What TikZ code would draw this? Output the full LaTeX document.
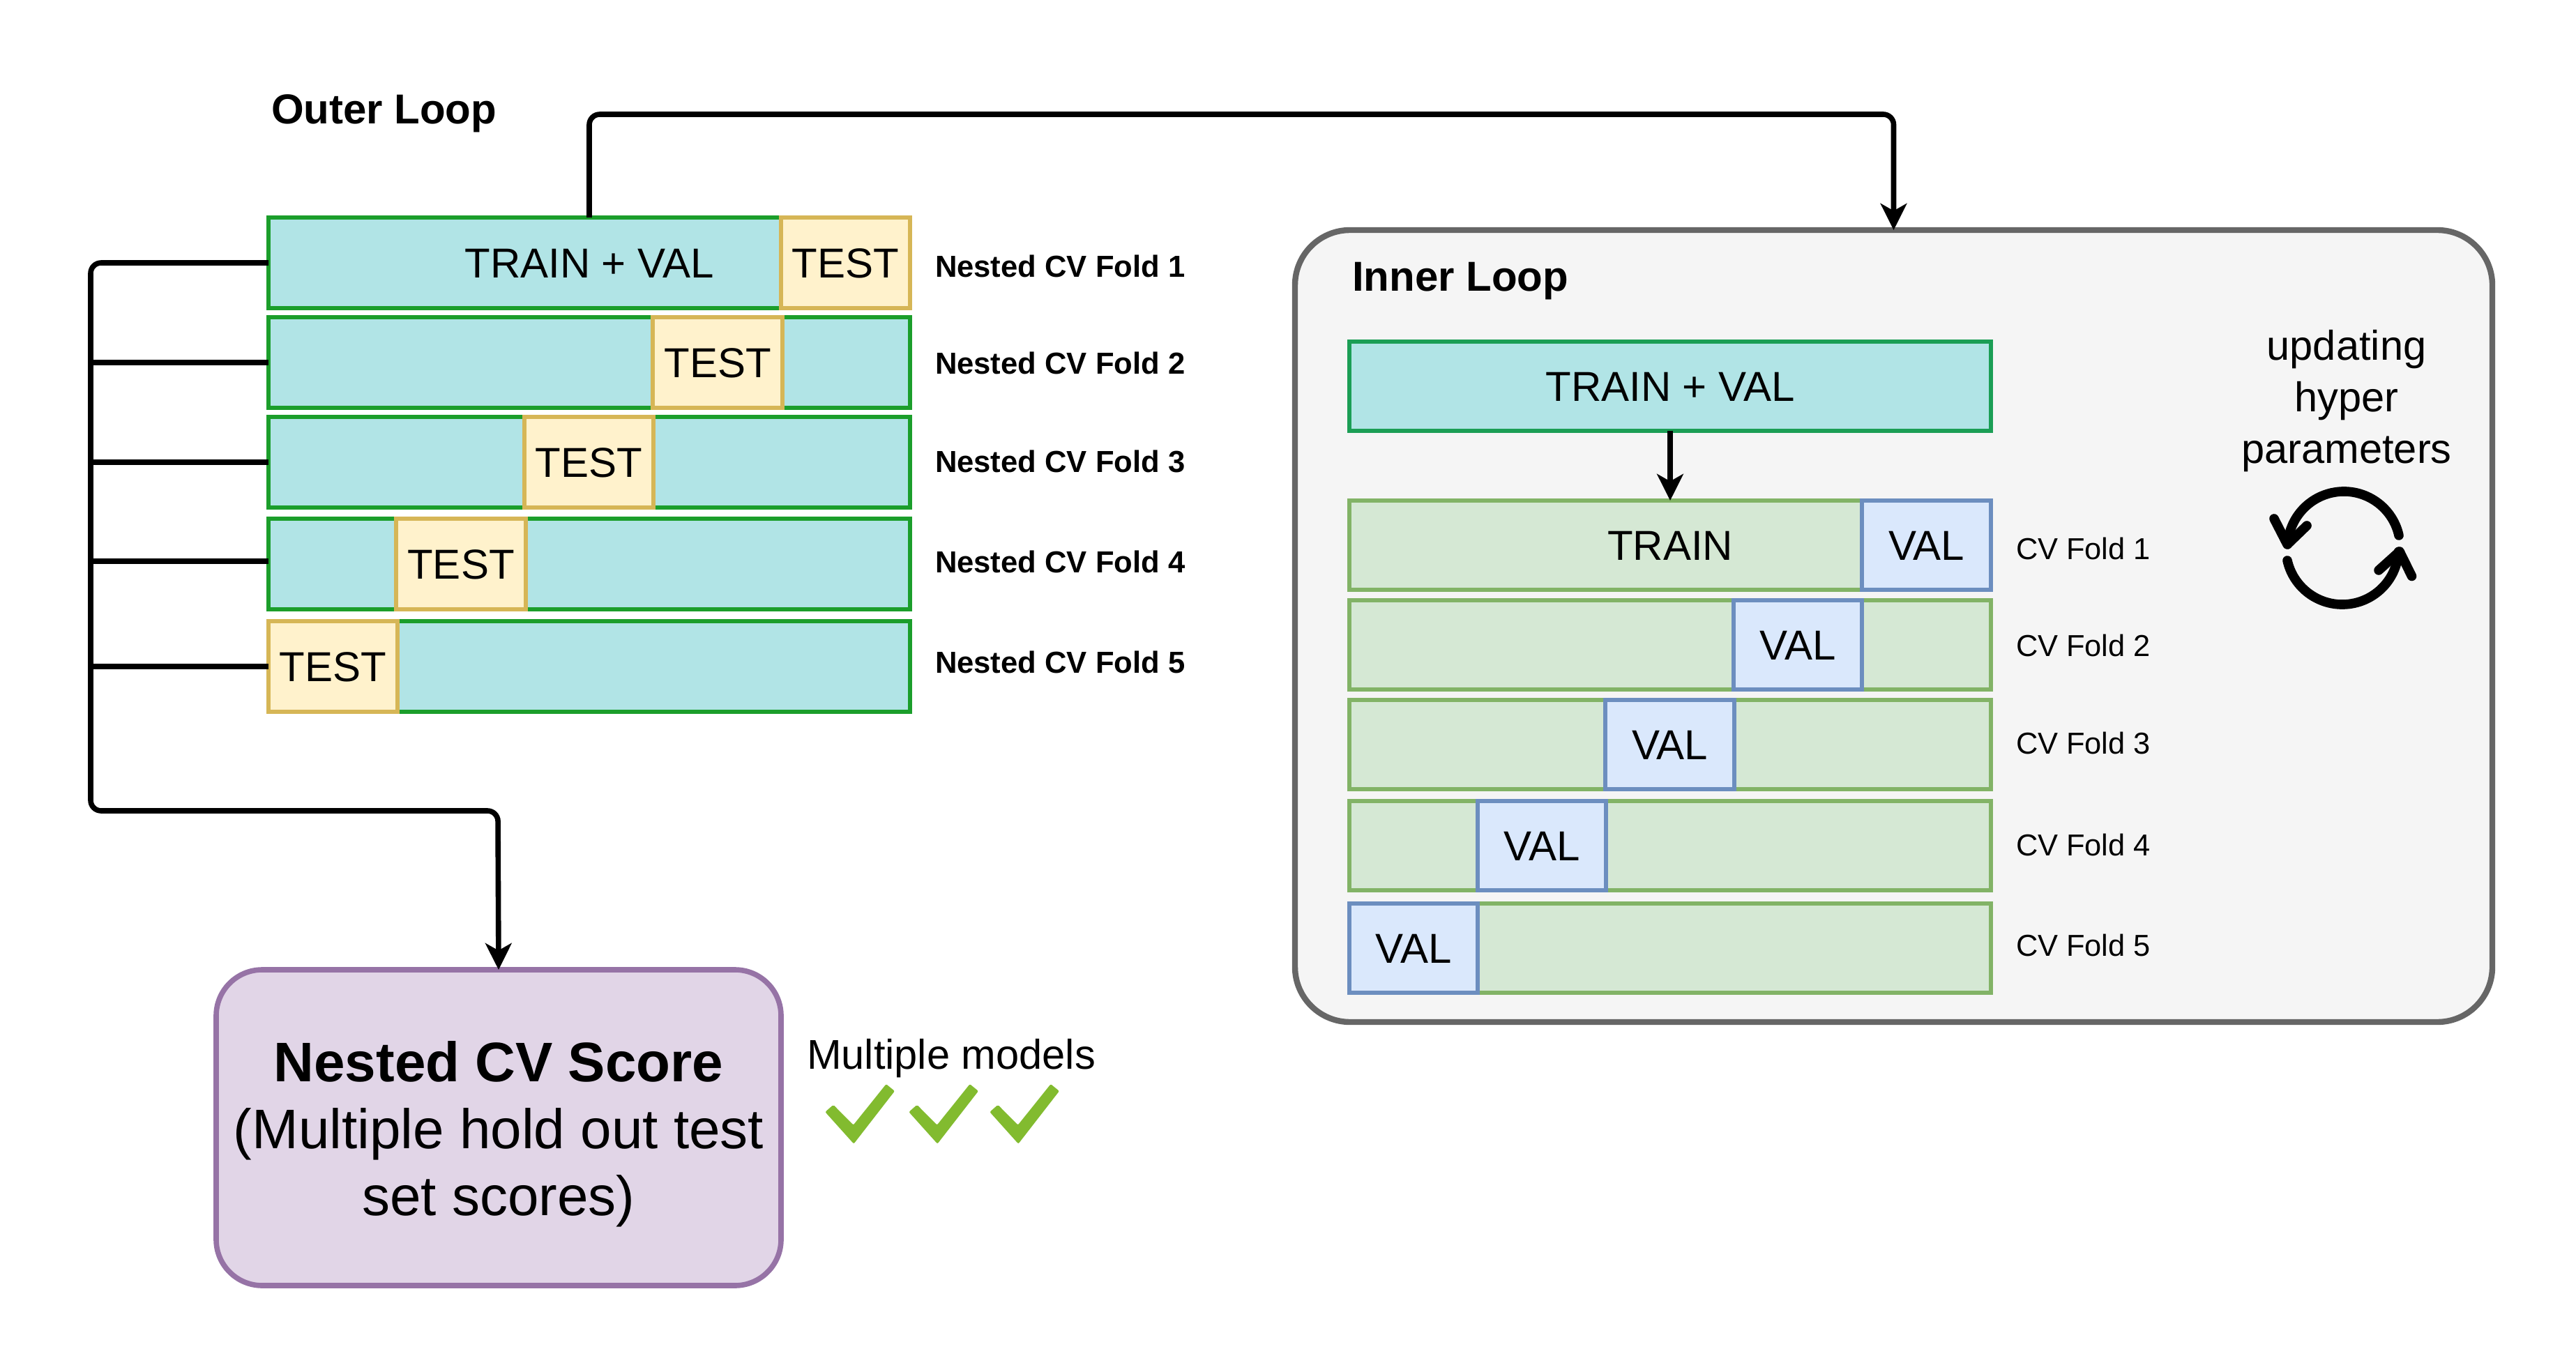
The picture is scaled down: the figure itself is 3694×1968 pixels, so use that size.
\documentclass[tikz,border=0pt]{standalone}
\usepackage{fontspec}
\setmainfont{Liberation Sans}
\usetikzlibrary{arrows.meta}
\definecolor{tealfill}{HTML}{B1E4E6}
\definecolor{outerline}{HTML}{1B9E2B}
\definecolor{innerline}{HTML}{1B9E55}
\definecolor{testfill}{HTML}{FFF2CC}
\definecolor{testline}{HTML}{D6B656}
\definecolor{trainfill}{HTML}{D5E8D4}
\definecolor{trainline}{HTML}{82B366}
\definecolor{valfill}{HTML}{DAE8FC}
\definecolor{valline}{HTML}{6C8EBF}
\definecolor{scorefill}{HTML}{E1D5E7}
\definecolor{scoreline}{HTML}{9673A6}
\definecolor{panelfill}{HTML}{F5F5F5}
\definecolor{panelline}{HTML}{666666}
\definecolor{checkgreen}{HTML}{82BB2F}
\newcommand{\fs}[1]{\fontsize{#1}{#1}\selectfont}
% name, style, x1, y1, x2, y2, text
\newcommand{\bx}[7]{%
  \pgfmathsetmacro{\bxw}{(#5-#3)*0.25}%
  \pgfmathsetmacro{\bxh}{(#6-#4)*0.25}%
  \node[#2,minimum width=\bxw pt,minimum height=\bxh pt] (#1) at ({(#3+#5)/2},{(#4+#6)/2}) {#7};}
\tikzset{
  x=0.25pt,y=-0.25pt,
  cell/.style={draw,line width=1.5pt,inner sep=0pt,outer sep=0pt,font=\fs{15},text height=10.8pt,text depth=0pt,text=black},
  outerrow/.style={cell,fill=tealfill,draw=outerline},
  innertop/.style={cell,fill=tealfill,draw=innerline},
  testcell/.style={cell,fill=testfill,draw=testline},
  trainrow/.style={cell,fill=trainfill,draw=trainline},
  valcell/.style={cell,fill=valfill,draw=valline},
  label/.style={anchor=base west,inner sep=0pt,outer sep=0pt,text=black},
  flow/.style={draw=black,line width=1.9pt,rounded corners=3.75pt},
  tipped/.style={flow,-{Stealth[length=9.5pt,width=9.4pt,inset=2.6pt]}},
  spin/.style={draw=black,line width=3.4pt,line cap=round,line join=round},
  tick/.style={fill=checkgreen,rounded corners=0.5pt},
}
\begin{document}
\begin{tikzpicture}
\useasboundingbox (0,0) rectangle (3694,1968);
\fill[white] (0,0) rectangle (3694,1968);

% Inner panel
\bx{panel}{draw=panelline,fill=panelfill,line width=2.1pt,rounded corners=19.75pt,inner sep=0pt,outer sep=0pt}{1857}{330}{3574}{1466}{}

% Outer rows
\bx{row1}{outerrow}{385}{312}{1305}{442}{TRAIN + VAL}
\bx{row2}{outerrow}{385}{455}{1305}{585}{}
\bx{row3}{outerrow}{385}{598}{1305}{728}{}
\bx{row4}{outerrow}{385}{744}{1305}{874}{}
\bx{row5}{outerrow}{385}{891}{1305}{1021}{}
\bx{test1}{testcell}{1120}{312}{1305}{442}{TEST}
\bx{test2}{testcell}{936}{455}{1122}{585}{TEST}
\bx{test3}{testcell}{752}{598}{937}{728}{TEST}
\bx{test4}{testcell}{568}{744}{754}{874}{TEST}
\bx{test5}{testcell}{385}{891}{570}{1021}{TEST}

% Inner rows
\bx{inner}{innertop}{1935}{490}{2855}{618}{TRAIN + VAL}
\bx{cv1}{trainrow}{1935}{718}{2855}{846}{TRAIN}
\bx{cv2}{trainrow}{1935}{861}{2855}{989}{}
\bx{cv3}{trainrow}{1935}{1004}{2855}{1132}{}
\bx{cv4}{trainrow}{1935}{1149}{2855}{1277}{}
\bx{cv5}{trainrow}{1935}{1296}{2855}{1424}{}
\bx{val1}{valcell}{2670}{718}{2855}{846}{VAL}
\bx{val2}{valcell}{2486}{861}{2670}{989}{VAL}
\bx{val3}{valcell}{2302}{1004}{2487}{1132}{VAL}
\bx{val4}{valcell}{2119}{1149}{2303}{1277}{VAL}
\bx{val5}{valcell}{1935}{1296}{2119}{1424}{VAL}

% Score box
\bx{score}{draw=scoreline,fill=scorefill,line width=1.9pt,rounded corners=16.5pt,inner sep=0pt,outer sep=0pt}{310}{1391}{1120}{1844}{}
\node[inner sep=0pt,align=center,font=\fs{20},text=black] (scoretext) at (715,1627) {{\bfseries Nested CV Score}\\[4pt](Multiple hold out test\\[4pt]set scores)};

% Titles and labels
\node[label,font=\fs{15}\bfseries] (outertitle) at (389,178) {Outer Loop};
\node[label,font=\fs{15}\bfseries] (innertitle) at (1939,418) {Inner Loop};
\node[label,font=\fs{10.9}\bfseries] (nf1) at (1341,398) {Nested CV Fold 1};
\node[label,font=\fs{10.9}\bfseries] (nf2) at (1341,537) {Nested CV Fold 2};
\node[label,font=\fs{10.9}\bfseries] (nf3) at (1341,677) {Nested CV Fold 3};
\node[label,font=\fs{10.9}\bfseries] (nf4) at (1341,821) {Nested CV Fold 4};
\node[label,font=\fs{10.9}\bfseries] (nf5) at (1341,965) {Nested CV Fold 5};
\node[label,font=\fs{10.85}] (cf1) at (2891,802) {CV Fold 1};
\node[label,font=\fs{10.85}] (cf2) at (2891,941) {CV Fold 2};
\node[label,font=\fs{10.85}] (cf3) at (2891,1081) {CV Fold 3};
\node[label,font=\fs{10.85}] (cf4) at (2891,1227) {CV Fold 4};
\node[label,font=\fs{10.85}] (cf5) at (2891,1371) {CV Fold 5};
\node[label,font=\fs{14.9}] (models) at (1157,1533) {Multiple models};
\node[inner sep=0pt,align=center,font=\fs{14.9},text=black] (updating) at (3365,575) {updating\\[3.5pt]hyper\\[3.5pt]parameters};

% Connectors
\coordinate (toprun) at (845,164);
\draw[tipped] (row1.north) -- (row1.north |- toprun) -- (panel.north |- toprun) -- (panel.north);
\draw[tipped] (inner.south) -- (cv1.north);
\coordinate (trunktop) at (130,377);
\coordinate (trunkbot) at (130,1163);
\coordinate (elbow) at (714,1163);
\draw[tipped] (row1.west) -- (trunktop) -- (trunkbot) -- (elbow) -- (score.north);
\draw[flow] (row2.west) -- (row2.west -| trunktop);
\draw[flow] (row3.west) -- (row3.west -| trunktop);
\draw[flow] ([yshift=1pt]row4.west) -- ([yshift=1pt]row4.west -| trunktop);
\draw[flow] (row5.west) -- (row5.west -| trunktop);

% Refresh icon
\draw[spin] (3440,768) arc[start angle=12.7,end angle=176.4,radius=20.2pt];
\draw[spin] (3261,744) -- (3280,781) -- (3308,754);
\draw[spin] (3280,804) arc[start angle=192.7,end angle=356.4,radius=20.2pt];
\draw[spin] (3458.5,826.5) -- (3441,791) -- (3411,818);

% Check marks
\foreach \dx in {0,120,236}
  \fill[tick,xshift=\dx*0.25pt] (1183.3,1595) -- (1195,1584.7) -- (1223.7,1613.7) -- (1270.7,1555) -- (1283,1565) -- (1224.3,1640.7) -- cycle;
\end{tikzpicture}
\end{document}
